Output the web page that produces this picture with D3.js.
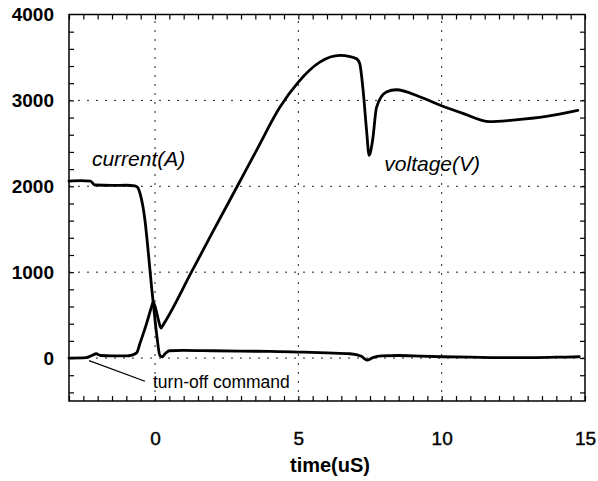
<!DOCTYPE html>
<html>
<head>
<meta charset="utf-8">
<script src="https://cdn.jsdelivr.net/npm/d3@7"></script>
<style>
  body { margin: 0; background: #fff; }
  svg { display: block; font-family: "Liberation Sans", Arial, sans-serif; }
</style>
</head>
<body>
<svg id="chart" width="598" height="481"></svg>
<script>
// ---- data ----
const currentTime = [-3, -2.6, -2.25, -2.1, -1.5, -1.0, -0.7, -0.6, -0.52, -0.35, -0.23, -0.12, -0.06, 0.07, 0.17, 0.25, 0.35, 0.5, 1, 2, 3, 4, 5, 6, 6.8, 7.2, 7.4, 7.6, 7.9, 8.5, 9, 10, 11, 12, 13, 14, 14.8];
const currentVals = [2060, 2065, 2060, 2015, 2010, 2012, 2005, 1985, 1915, 1605, 1217, 829, 640, 244, 30, 15, 50, 85, 90, 85, 80, 78, 70, 60, 50, 20, -25, 5, 25, 30, 25, 15, 10, 5, 5, 10, 15];

const voltageTime = [-3, -2.4, -2.2, -2.05, -1.9, -1.5, -1.0, -0.81, -0.64, -0.52, -0.29, -0.12, -0.06, 0.05, 0.12, 0.21, 0.3, 1.27, 2.0, 2.87, 3.54, 4.36, 5.0, 5.75, 6.45, 6.8, 7.03, 7.14, 7.26, 7.38, 7.47, 7.59, 7.73, 8.07, 8.42, 9.23, 9.93, 10.74, 11.67, 12.49, 13.65, 14.75];
const voltageVals = [0, 5, 30, 50, 30, 25, 25, 35, 60, 175, 407, 597, 655, 540, 442, 350, 395, 1000, 1460, 2000, 2418, 2922, 3213, 3445, 3523, 3510, 3485, 3430, 3116, 2651, 2360, 2535, 2922, 3097, 3124, 3043, 2946, 2849, 2752, 2771, 2814, 2884];

const xTickValues = [0, 5, 10, 15];
const yTickValues = [0, 1000, 2000, 3000, 4000];
const xLabel = "time(uS)";
const labels = [
  { text: "current(A)", t: -2.2, v: 2240 },
  { text: "voltage(V)", t: 8.0, v: 2180 }
];
const annotation = { text: "turn-off command", from: [-2.3, -30], to: [-0.35, -270] };

// ---- layout ----
const svg = d3.select("#chart");
const m = { left: 69, right: 13, top: 14.5, bottom: 80 };
const W = 598, H = 481;
const x = d3.scaleLinear().domain([-3, 15]).range([m.left, W - m.right]);
const y = d3.scaleLinear().domain([-500, 4000]).range([H - m.bottom, m.top]);

// grid (dotted)
const g = svg.append("g");
g.selectAll(".gx").data([0, 5, 10]).enter().append("line")
  .attr("x1", d => x(d)).attr("x2", d => x(d))
  .attr("y1", y(-500)).attr("y2", y(4000))
  .attr("stroke", "#222").attr("stroke-width", 1).attr("stroke-dasharray", "2,7");
g.selectAll(".gy").data([0, 1000, 2000, 3000]).enter().append("line")
  .attr("x1", x(-3)).attr("x2", x(15))
  .attr("y1", d => y(d)).attr("y2", d => y(d))
  .attr("stroke", "#222").attr("stroke-width", 1).attr("stroke-dasharray", "2,7");

// inward ticks on all four sides
const xMinor = d3.range(-3, 15.001, 0.5);
const yMinor = d3.range(-400, 4000, 200);
const tl = 5;
svg.append("g").attr("transform", `translate(0,${y(-500)})`)
  .call(d3.axisBottom(x).tickValues(xMinor).tickSize(-tl).tickFormat(""))
  .call(s => s.select(".domain").remove());
svg.append("g").attr("transform", `translate(0,${y(4000)})`)
  .call(d3.axisTop(x).tickValues(xMinor).tickSize(-tl).tickFormat(""))
  .call(s => s.select(".domain").remove());
svg.append("g").attr("transform", `translate(${x(-3)},0)`)
  .call(d3.axisLeft(y).tickValues(yMinor).tickSize(-tl).tickFormat(""))
  .call(s => s.select(".domain").remove());
svg.append("g").attr("transform", `translate(${x(15)},0)`)
  .call(d3.axisRight(y).tickValues(yMinor).tickSize(-tl).tickFormat(""))
  .call(s => s.select(".domain").remove());
svg.selectAll(".tick line").attr("stroke", "#000").attr("stroke-width", 1.2);

// frame
svg.append("rect").attr("x", x(-3)).attr("y", y(4000))
  .attr("width", x(15) - x(-3)).attr("height", y(-500) - y(4000))
  .attr("fill", "none").attr("stroke", "#000").attr("stroke-width", 1.5);

// tick labels
svg.append("g").attr("transform", `translate(0,${y(-500)})`)
  .call(d3.axisBottom(x).tickValues(xTickValues).tickSize(0).tickPadding(31).tickFormat(d3.format("d")))
  .call(s => s.select(".domain").remove())
  .selectAll("text").attr("font-size", 19).attr("fill", "#000")
  .attr("font-family", "Liberation Sans, Arial, sans-serif")
  .attr("stroke", "#000").attr("stroke-width", 0.4);
svg.append("g").attr("transform", `translate(${x(-3)},0)`)
  .call(d3.axisLeft(y).tickValues(yTickValues).tickSize(0).tickPadding(15).tickFormat(d3.format("d")))
  .call(s => s.select(".domain").remove())
  .selectAll("text").attr("font-size", 19).attr("fill", "#000").attr("font-weight", "bold")
  .attr("font-family", "Liberation Sans, Arial, sans-serif");

// axis title
svg.append("text").attr("x", 330).attr("y", 472).attr("text-anchor", "middle")
  .attr("font-size", 20).attr("font-weight", "bold").text(xLabel);

// curves
const line = d3.line().x(d => x(d[0])).y(d => y(d[1])).curve(d3.curveMonotoneX);
const cur = currentTime.map((t, i) => [t, currentVals[i]]);
const vol = voltageTime.map((t, i) => [t, voltageVals[i]]);
[cur, vol].forEach(data => {
  svg.append("path").datum(data).attr("d", line)
    .attr("fill", "none").attr("stroke", "#000").attr("stroke-width", 2.8)
    .attr("stroke-linejoin", "round").attr("stroke-linecap", "round");
});

// labels
labels.forEach(l => {
  svg.append("text").attr("x", x(l.t)).attr("y", y(l.v))
    .attr("font-size", 21).attr("font-style", "italic").text(l.text);
});
svg.append("line")
  .attr("x1", x(annotation.from[0])).attr("y1", y(annotation.from[1]))
  .attr("x2", x(annotation.to[0])).attr("y2", y(annotation.to[1]))
  .attr("stroke", "#000").attr("stroke-width", 1.2);
svg.append("text").attr("x", 153).attr("y", 388)
  .attr("font-size", 17.5).text(annotation.text);
</script>
</body>
</html>
